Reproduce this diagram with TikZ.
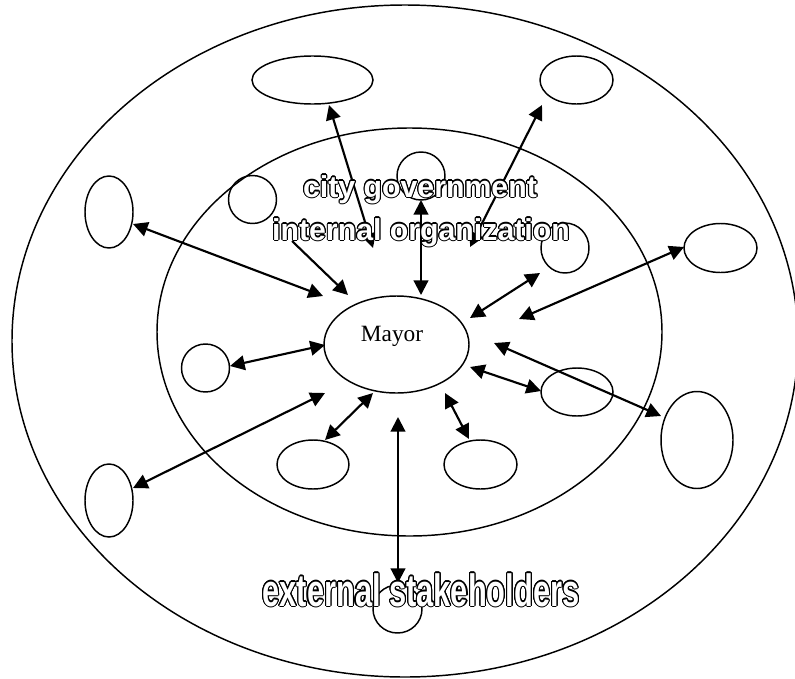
\documentclass[tikz,border=0pt]{standalone}
\usepackage{fontspec}
\setmainfont{Liberation Serif}
\newfontfamily\outfont{Liberation Sans}
\newfontfamily\narrowfont[FakeStretch=0.68]{Liberation Sans}
\usepackage{contour}
\contourlength{0.8pt}
\usetikzlibrary{shapes.geometric,arrows.meta}
\begin{document}
\begin{tikzpicture}[x=0.75pt,y=-0.75pt,
  ell/.style n args={2}{draw, ellipse, line width=1.1pt, inner sep=0pt, outer sep=0pt,
     minimum width=#1*1.5pt, minimum height=#2*1.5pt},
  link/.style={line width=1.6pt, {Triangle[length=11pt,width=11pt]}-{Triangle[length=11pt,width=11pt]}},
  onelink/.style={line width=1.6pt, -{Triangle[length=11pt,width=11pt]}},
  bigtext/.style={anchor=base, text=white, inner sep=0pt, font=\outfont\bfseries\fontsize{22.7}{26}\selectfont},
  exttext/.style={anchor=base, text=white, inner sep=0pt, font=\narrowfont\bfseries\fontsize{34}{40}\selectfont}]
\useasboundingbox (0,0) rectangle (795,678);

% large rings
\node[ell={393}{336}] (outer) at (405,341) {};
\node[ell={252.5}{204}] (inner) at (409.5,332) {};
\node[ell={72.5}{48.5}] (mayor) at (396.5,344.5) {};
\node[anchor=base, inner sep=0pt, font=\fontsize{17.5}{20}\selectfont] (mayorlbl) at (392,341) {Mayor};

% small ellipses
\node[ell={60.5}{24}] (e1) at (312.5,80) {};
\node[ell={36.5}{24}] (e2) at (576.5,80) {};
\node[ell={24}{36}] (e3) at (109,212) {};
\node[ell={24}{24}] (e4) at (252.5,199.5) {};
\node[ell={24}{24}] (e5) at (421,176) {};
\node[ell={24}{25}] (e6) at (565,248) {};
\node[ell={36.5}{24.5}] (e7) at (720.5,248) {};
\node[ell={24}{24}] (e8) at (205.5,368) {};
\node[ell={24}{36.5}] (e9) at (109,500.5) {};
\node[ell={36}{24.5}] (e10) at (313,464.5) {};
\node[ell={36.5}{24.5}] (e11) at (480.5,464.5) {};
\node[ell={36}{24}] (e12) at (577,392) {};
\node[ell={36}{48.5}] (e13) at (697,440) {};
\node[ell={24.5}{24}] (e14) at (397.5,609) {};

% arrow end points
\coordinate (a1) at (373,248);  \coordinate (b1) at (329,105);
\coordinate (a2) at (470,247);  \coordinate (b2) at (542,105);
\coordinate (a3) at (421,295);  \coordinate (b3) at (421,200);
\coordinate (a4) at (323,296);  \coordinate (b4) at (133,224);
\coordinate (a5) at (292,241);  \coordinate (b5) at (348,295);
\coordinate (a6) at (470,318);  \coordinate (b6) at (540,273);
\coordinate (a7) at (519,319);  \coordinate (b7) at (684,247);
\coordinate (a8) at (325,345);  \coordinate (b8) at (230,366);
\coordinate (a9) at (325,393);  \coordinate (b9) at (133,488);
\coordinate (a10) at (373,393); \coordinate (b10) at (325,440);
\coordinate (a11) at (398,417); \coordinate (b11) at (398,583);
\coordinate (a12) at (445,393); \coordinate (b12) at (469,439);
\coordinate (a13) at (470,367); \coordinate (b13) at (541,391);
\coordinate (a14) at (494,343); \coordinate (b14) at (661,416);

\draw[link] (a1) -- (b1);
\draw[link] (a2) -- (b2);
\draw[link] (a3) -- (b3);
\draw[link] (a4) -- (b4);
\draw[onelink] (a5) -- (b5);
\draw[link] (a6) -- (b6);
\draw[link] (a7) -- (b7);
\draw[link] (a8) -- (b8);
\draw[link] (a9) -- (b9);
\draw[link] (a10) -- (b10);
\draw[link] (a11) -- (b11);
\draw[link] (a12) -- (b12);
\draw[link] (a13) -- (b13);
\draw[link] (a14) -- (b14);

% outlined labels
\node[bigtext] (t1) at (420,197) {\contour{black}{city government}};
\node[bigtext] (t2) at (421,240) {\contour{black}{internal organization}};
\node[exttext] (t3) at (421,606) {\contour{black}{external stakeholders}};
\end{tikzpicture}
\end{document}
